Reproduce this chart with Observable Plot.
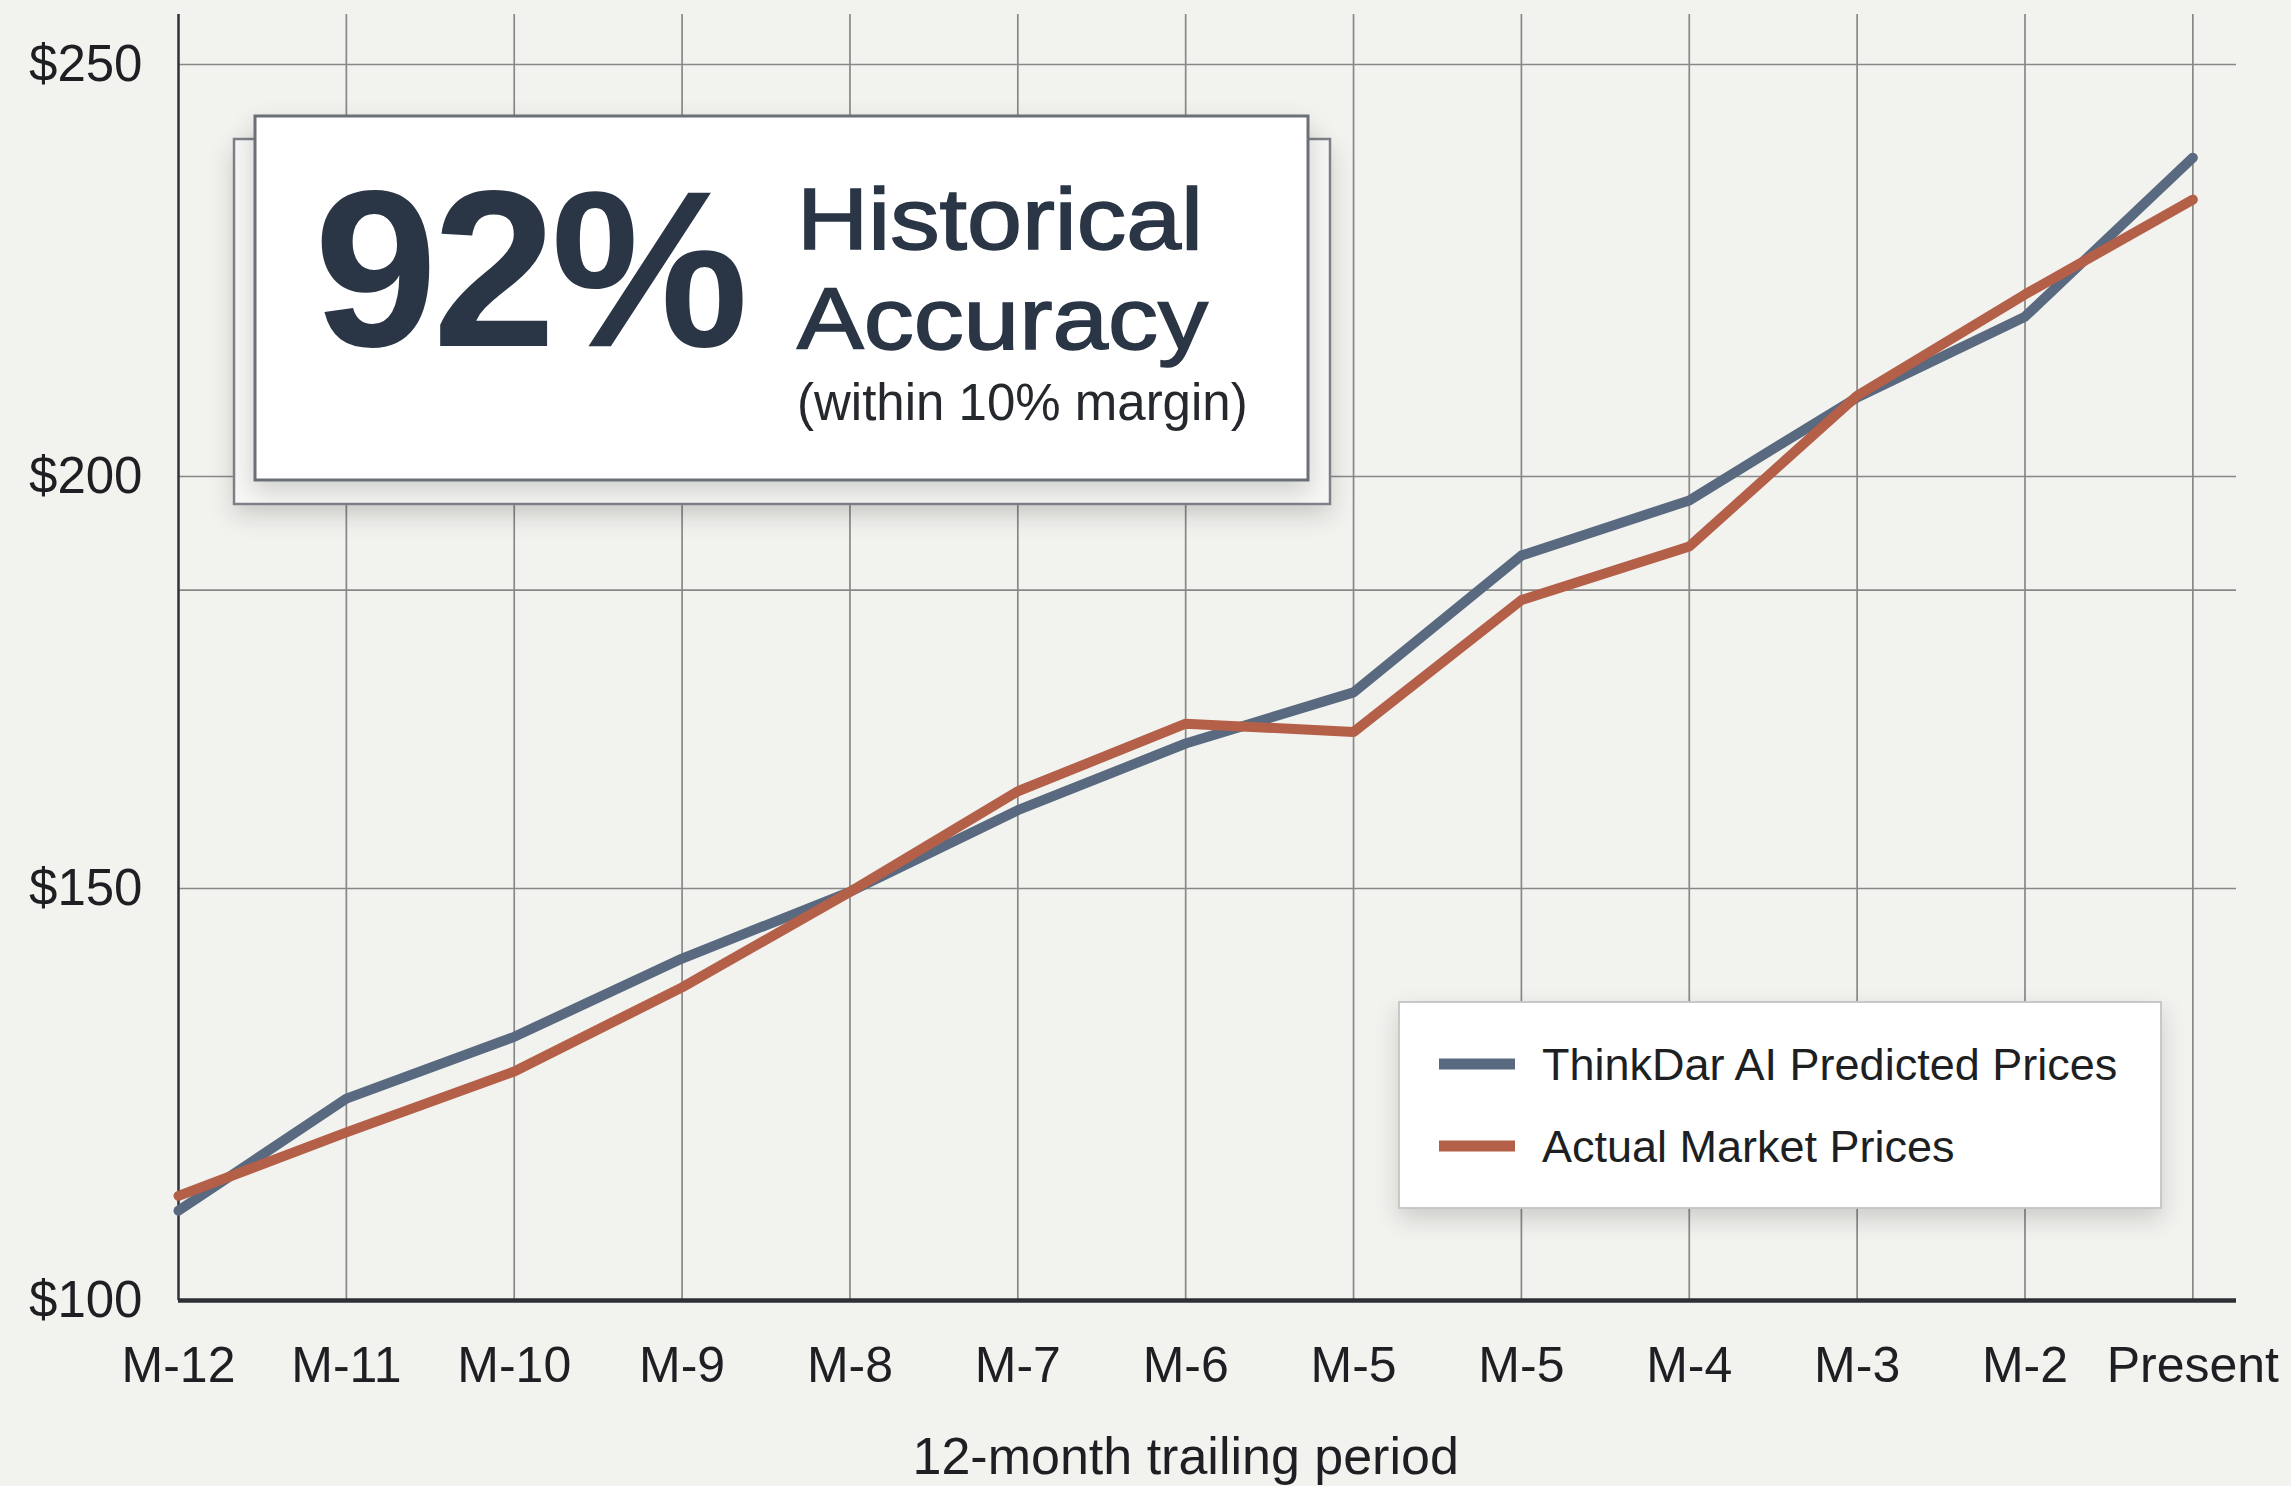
<!DOCTYPE html>
<html><head><meta charset="utf-8">
<script src="https://cdn.jsdelivr.net/npm/d3@7"></script>
<script src="https://cdn.jsdelivr.net/npm/@observablehq/plot@0.6"></script>
<style>
html,body{margin:0;padding:0;background:#f2f2ef;}
#chart{position:relative;width:2291px;height:1486px;}
</style></head><body><div id="chart"></div>
<script>
const months = ["M-12","M-11","M-10","M-9","M-8","M-7","M-6","M-5","M-5","M-4","M-3","M-2","Present"];
const predicted = [110.9, 124.5, 132.0, 141.5, 149.6, 159.5, 167.6, 173.8, 190.4, 197.1, 209.6, 219.4, 238.7];
const actual    = [112.7, 120.4, 127.8, 138.0, 149.6, 161.8, 170.0, 169.0, 185.0, 191.5, 209.8, 222.1, 233.6];
const yTicks = [100, 150, 200, 250];
const extraGridY = [186.2];
const seriesNames = ["ThinkDar AI Predicted Prices", "Actual Market Prices"];
const seriesColors = ["#586980", "#b45f48"];
const headline = "92%";
const headlineLines = ["Historical", "Accuracy"];
const headlineNote = "(within 10% margin)";
const xLabel = "12-month trailing period";

const idx = d3.range(months.length);
const seriesValues = [predicted, actual];
const rows = seriesNames.flatMap((s, k) => idx.map(i => ({i, series: s, value: seriesValues[k][i]})));

const font = "'Liberation Sans', Arial, Helvetica, sans-serif";
const textColor = "#1d1f22";
const chart = Plot.plot({
  width: 2291, height: 1486,
  marginLeft: 178, marginRight: 55, marginTop: 14, marginBottom: 186,
  style: {background: "transparent", fontFamily: font, color: textColor, overflow: "visible"},
  x: {domain: [0, 12.26]},
  y: {domain: [100, 256.07]},
  color: {domain: seriesNames, range: seriesColors},
  marks: [
    Plot.ruleX(idx.slice(1), {x: d => d, stroke: "#888888", strokeWidth: 1.7}),
    Plot.ruleY(yTicks.slice(1).concat(extraGridY), {y: d => d, stroke: "#888888", strokeWidth: 1.7}),
    Plot.ruleX([0], {x: d => d, stroke: "#2e3238", strokeWidth: 2.5}),
    Plot.line(rows, {x: "i", y: "value", z: "series", stroke: "series", strokeWidth: 10, strokeLinejoin: "round"}),
    Plot.ruleY([100], {y: d => d, stroke: "#2c3036", strokeWidth: 4.5}),
    Plot.axisX({ticks: idx, tickFormat: i => months[i], tickSize: 0, tickPadding: 46, fontSize: 50, label: null}),
    Plot.axisY({ticks: yTicks, tickFormat: d => "$" + d, tickSize: 0, tickPadding: 36, fontSize: 51, label: null}),
    Plot.text([xLabel], {x: d => 6, y: d => 100, text: d => d, dy: 157, fontSize: 52, fill: textColor})
  ]
});
document.getElementById("chart").appendChild(chart);

// decorations: annotation card and legend
const svg = d3.select(chart);
const defs = svg.append("defs");
const f = defs.append("filter").attr("id", "shadow").attr("x", "-10%").attr("y", "-10%").attr("width", "130%").attr("height", "140%");
f.append("feDropShadow").attr("dx", 0).attr("dy", 10).attr("stdDeviation", 12).attr("flood-color", "#000").attr("flood-opacity", 0.16);

const card = svg.append("g").attr("text-anchor", "start");
card.append("rect").attr("x", 234).attr("y", 139).attr("width", 1096).attr("height", 365)
  .attr("fill", "#f7f7f6").attr("stroke", "#7d8187").attr("stroke-width", 2.5).attr("filter", "url(#shadow)");
card.append("rect").attr("x", 255).attr("y", 116).attr("width", 1053).attr("height", 364)
  .attr("fill", "#ffffff").attr("stroke", "#6b6f75").attr("stroke-width", 3).attr("filter", "url(#shadow)");
const headColor = "#2a3545";
card.append("text").attr("x", 314).attr("y", 346).text(headline)
  .attr("text-anchor", "start")
  .attr("font-family", font).attr("font-weight", "bold").attr("font-size", 222)
  .attr("letter-spacing", -5).attr("fill", headColor);
const headBase = [249, 349];
const headWidth = [406, 411];
headlineLines.forEach((t, k) => {
  card.append("text").attr("x", 797).attr("y", headBase[k]).text(t)
    .attr("text-anchor", "start")
    .attr("textLength", headWidth[k]).attr("lengthAdjust", "spacingAndGlyphs")
    .attr("font-family", font).attr("font-size", 88).attr("fill", headColor)
    .attr("stroke", headColor).attr("stroke-width", 1.6).attr("paint-order", "stroke");
});
card.append("text").attr("x", 797).attr("y", 420).text(headlineNote)
  .attr("text-anchor", "start")
  .attr("font-family", font).attr("font-size", 51).attr("fill", "#25282d");

const leg = svg.append("g").attr("text-anchor", "start");
leg.append("rect").attr("x", 1399).attr("y", 1002).attr("width", 762).attr("height", 206)
  .attr("fill", "#ffffff").attr("stroke", "#c4c4c4").attr("stroke-width", 1.8).attr("filter", "url(#shadow)");
seriesNames.forEach((s, k) => {
  const cy = 1064 + k * 82;
  leg.append("line").attr("x1", 1439).attr("x2", 1515).attr("y1", cy).attr("y2", cy)
    .attr("stroke", seriesColors[k]).attr("stroke-width", 11);
  leg.append("text").attr("x", 1542).attr("y", cy + 16).text(s)
    .attr("text-anchor", "start")
    .attr("font-family", font).attr("font-size", 45).attr("fill", textColor);
});
</script>
</body></html>
